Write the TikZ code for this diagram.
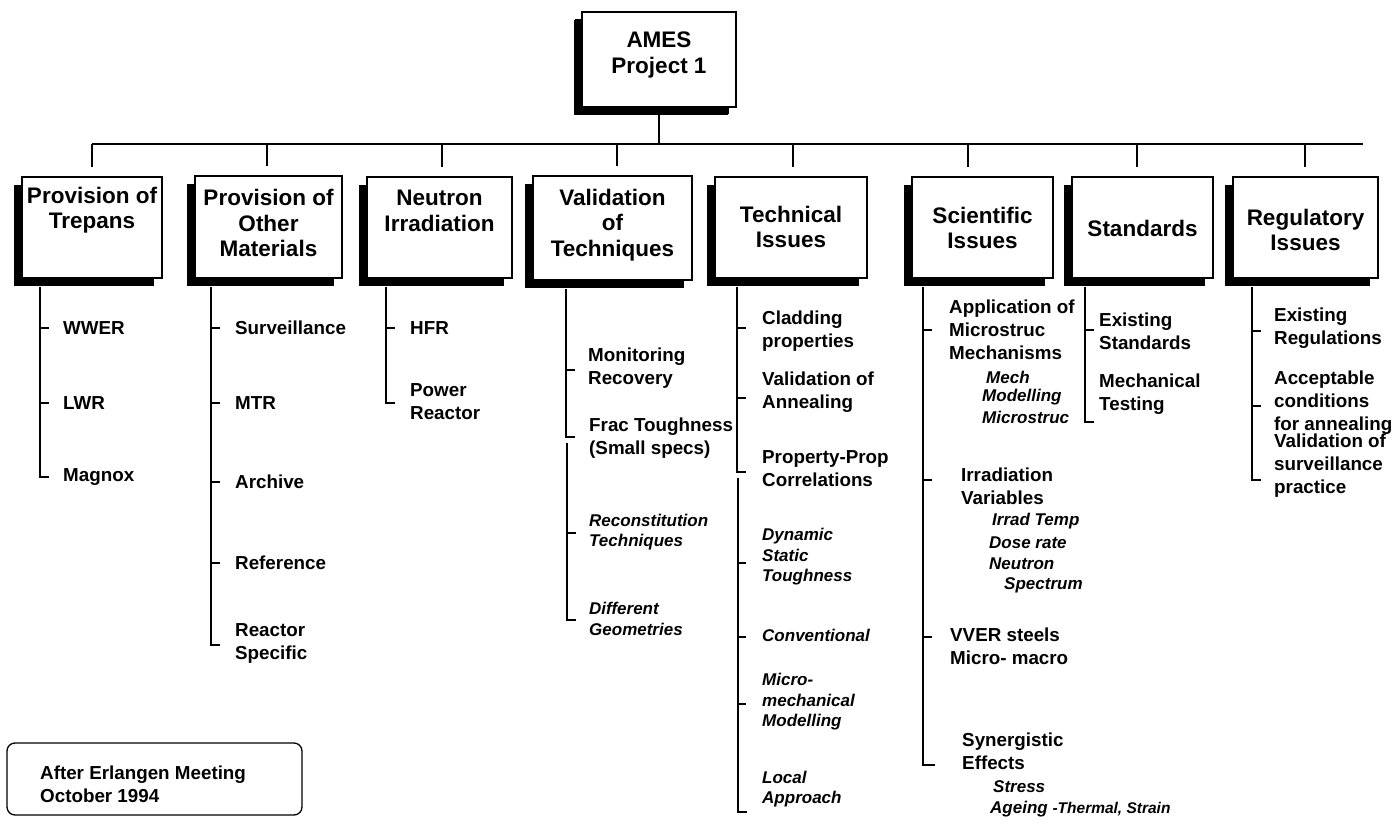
\documentclass[tikz,border=0pt]{standalone}
\usepackage{fontspec}
\setmainfont{Liberation Sans}
\usetikzlibrary{shadows}
\begin{document}
\begin{tikzpicture}[x=1pt,y=-1pt,
  boxx/.style={draw, line width=1.6pt, fill=white, inner sep=0pt,
    drop shadow={shadow xshift=-8pt, shadow yshift=-8pt, fill=black, opacity=1}},
  htx/.style={align=center, inner sep=0pt, font=\fontsize{22.5}{25.5}\selectfont\bfseries},
  txt/.style={anchor=west, align=left, inner sep=0pt, font=\fontsize{18.8}{23}\selectfont\bfseries},
  itx/.style={anchor=west, align=left, inner sep=0pt, font=\fontsize{17}{20.5}\selectfont\bfseries\itshape},
  conn/.style={line width=1.5pt},
  tk/.style={line width=1.5pt}]
\useasboundingbox (0,0) rectangle (1398,826);

% top box
\node[boxx, minimum width=154pt, minimum height=95pt,
  drop shadow={shadow xshift=-7pt, shadow yshift=-7pt, fill=black, opacity=1}] (top) at (659,59.5) {};
\node[htx] (toptx) at (659,55) {AMES\\Project 1};

% header boxes
\node[boxx, minimum width=140pt, minimum height=101pt] (h1) at (92,227.5) {};
\node[boxx, minimum width=147pt, minimum height=102pt] (h2) at (268.5,227) {};
\node[boxx, minimum width=145pt, minimum height=101pt] (h3) at (439.5,227.5) {};
\node[boxx, minimum width=159pt, minimum height=104pt] (h4) at (612.5,228) {};
\node[boxx, minimum width=152pt, minimum height=101pt] (h5) at (791,227.5) {};
\node[boxx, minimum width=141pt, minimum height=101pt] (h6) at (982.5,227.5) {};
\node[boxx, minimum width=141pt, minimum height=101pt] (h7) at (1142.5,227.5) {};
\node[boxx, minimum width=145pt, minimum height=101pt] (h8) at (1305.5,227.5) {};

\node[htx] (t1) at (92,210) {Provision of\\Trepans};
\node[htx] (t2) at (268.5,223) {Provision of\\Other\\Materials};
\node[htx] (t3) at (439.5,211) {Neutron\\Irradiation};
\node[htx] (t4) at (612.5,225) {Validation\\of\\Techniques};
\node[htx] (t5) at (791,227) {Technical\\Issues};
\node[htx] (t6) at (982.5,228) {Scientific\\Issues};
\node[htx] (t7) at (1142.5,228) {Standards};
\node[htx] (t8) at (1305.5,230) {Regulatory\\Issues};

% top connectors
\coordinate (barL) at (92,144);
\coordinate (barR) at (1363,144);
\draw[conn] ([yshift=-7pt]top.south) -- (top.south |- barL);
\draw[conn] (barL) -- (barR);
\foreach \x/\h in {92/h1,267/h2,442/h3,617/h4,793/h5,968/h6,1137/h7,1305/h8}
  \draw[conn] (\x,144) -- ([yshift=9pt]\h.north -| \x,0);

% ---------- column 1
\node[txt] (c1a) at (63,328) {WWER};
\node[txt] (c1b) at (63,403) {LWR};
\node[txt] (c1c) at (63,477) {Magnox};
\draw[conn] ([yshift=-8pt]h1.south -| 40,0) -- (40,477) -- (49,477);
\foreach \y in {328,403} \draw[tk] (40,\y) -- (49,\y);

% ---------- column 2
\node[txt] (c2a) at (235,328) {Surveillance};
\node[txt] (c2b) at (235,403) {MTR};
\node[txt] (c2c) at (235,482) {Archive};
\node[txt] (c2d) at (235,563) {Reference};
\node[txt] (c2e) at (235,643) {Reactor\\Specific};
\draw[conn] ([yshift=-8pt]h2.south -| 211,0) -- (211,645) -- (220,645);
\foreach \y in {328,403,482,563} \draw[tk] (211,\y) -- (220,\y);

% ---------- column 3
\node[txt] (c3a) at (410,328) {HFR};
\node[txt] (c3b) at (410,402) {Power\\Reactor};
\draw[conn] ([yshift=-8pt]h3.south -| 386,0) -- (386,403) -- (395,403);
\draw[tk] (386,328) -- (395,328);

% ---------- column 4
\node[txt] (c4a) at (588,368) {Monitoring\\Recovery};
\node[txt] (c4b) at (589,438) {Frac Toughness\\(Small specs)};
\node[itx] (c4c) at (589,532) {Reconstitution\\Techniques};
\node[itx] (c4d) at (589,619) {Different\\Geometries};
\draw[conn] ([yshift=-8pt]h4.south -| 566,0) -- (566,437) -- (575,437);
\draw[tk] (566,370) -- (575,370);
\draw[conn] (567,443) -- (567,620) -- (576,620);
\draw[tk] (567,533) -- (576,533);

% ---------- column 5
\node[txt] (c5a) at (762,331) {Cladding\\properties};
\node[txt] (c5b) at (762,392) {Validation of\\Annealing};
\node[txt] (c5c) at (762,469) {Property-Prop\\Correlations};
\node[itx] (c5d) at (762,557) {Dynamic\\Static\\Toughness};
\node[itx] (c5e) at (762,635) {Conventional};
\node[itx] (c5f) at (762,702) {Micro-\\mechanical\\Modelling};
\node[itx] (c5g) at (762,789) {Local\\Approach};
\draw[conn] ([yshift=-8pt]h5.south -| 737,0) -- (737,472) -- (746,472);
\foreach \y in {328,398} \draw[tk] (737,\y) -- (746,\y);
\draw[conn] (738,478) -- (738,812) -- (747,812);
\foreach \y in {563,637,704} \draw[tk] (738,\y) -- (746,\y);

% ---------- column 6
\node[txt] (c6a) at (949,330) {Application of\\Microstruc\\Mechanisms};
\node[itx] (c6a1) at (986,377) {Mech};
\node[itx] (c6a2) at (982,397) {Modelling};
\node[itx] (c6a3) at (982,417) {Microstruc};
\node[txt] (c6b) at (961,486) {Irradiation\\Variables};
\node[itx] (c6b1) at (992,521) {Irrad Temp};
\node[itx] (c6b2) at (989,543) {Dose rate};
\node[itx] (c6b3) at (989,564) {Neutron};
\node[itx] (c6b4) at (1004,585) {Spectrum};
\node[txt] (c6c) at (950,646) {VVER steels\\Micro- macro};
\node[txt] (c6d) at (962,751) {Synergistic\\Effects};
\node[itx] (c6d1) at (993,787) {Stress};
\node[itx] (c6d2) at (990,809) {Ageing {\fontsize{15.5}{18}\selectfont -Thermal, Strain}};
\draw[conn] ([yshift=-8pt]h6.south -| 923,0) -- (923,765) -- (935,765);
\foreach \y in {330,480,637} \draw[tk] (923,\y) -- (932,\y);

% ---------- column 7
\node[txt] (c7a) at (1099,331) {Existing\\Standards};
\node[txt] (c7b) at (1099,394) {Mechanical\\Testing};
\draw[conn] ([yshift=-8pt]h7.south -| 1085,0) -- (1085,422) -- (1094,422);
\draw[tk] (1085,330) -- (1094,330);

% ---------- column 8
\node[txt] (c8a) at (1274,328.5) {Existing\\Regulations};
\node[txt] (c8b) at (1274,403) {Acceptable\\conditions\\for annealing};
\node[txt] (c8c) at (1274,466) {Validation of\\surveillance\\practice};
\draw[conn] ([yshift=-8pt]h8.south -| 1252,0) -- (1252,480) -- (1261,480);
\foreach \y in {331,406} \draw[tk] (1252,\y) -- (1261,\y);

% ---------- footnote
\node[draw, line width=1.3pt, rounded corners=8pt, minimum width=295pt, minimum height=72pt, inner sep=0pt] (note) at (154.5,779) {};
\node[txt] (notetx) at (40,784) {After Erlangen Meeting\\October 1994};
\end{tikzpicture}
\end{document}
